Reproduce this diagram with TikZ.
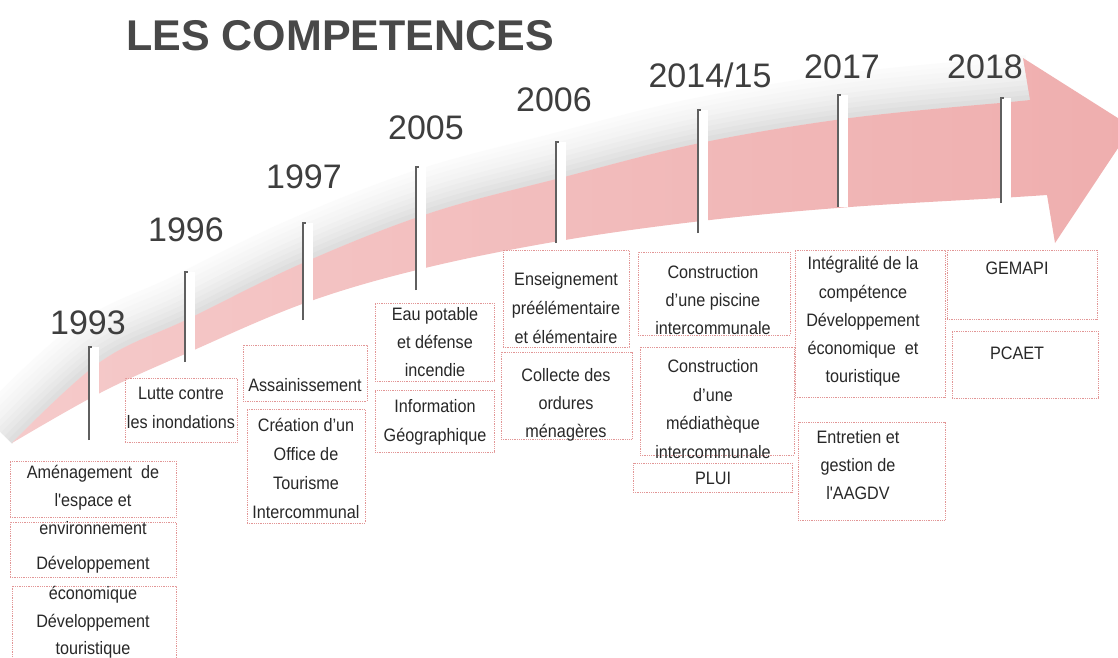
\documentclass[tikz,border=0pt]{standalone}
\usepackage{fontspec}
\setmainfont{Liberation Sans}
\newfontfamily\boxfont[FakeStretch=0.9]{Liberation Sans}
\definecolor{txtc}{RGB}{40,40,40}
\definecolor{yrc}{RGB}{62,62,62}
\definecolor{titc}{RGB}{72,72,72}
\definecolor{boxred}{RGB}{226,150,150}
\definecolor{pinkL}{RGB}{245,202,202}
\definecolor{pinkR}{RGB}{239,174,174}
\definecolor{polegray}{RGB}{95,95,95}
\begin{document}
\begin{tikzpicture}[x=1pt,y=-1pt,
  cbox/.style={draw=boxred, densely dotted, line width=0.8pt, inner sep=0pt},
  ctext/.style={text=txtc, align=center, inner sep=0pt, font=\boxfont\fontsize{18}{#1}\selectfont},
  ctext/.default=28,
  year/.style={text=yrc, inner sep=0pt, font=\fontsize{34}{40}\selectfont},
  ttl/.style={text=titc, inner sep=0pt, font=\bfseries\fontsize{43}{50}\selectfont}]
\useasboundingbox (0,0) rectangle (1118,657);
\fill[white] (0,0) rectangle (1118,657);

% shadow above the band
\begin{scope}
\clip plot[smooth, tension=0.6] coordinates {(12,443) (100,362) (190,318) (305,262) (430,213) (560,178) (700,143) (850,118) (1000,103) (1030,100)} -- (1030,0) -- (0,0) -- (0,443) -- cycle;
\foreach \w/\c in {90/1.5,80/2.5,70/3.5,60/4.5,50/6,40/7.5,30/9,20/11,10/13}
  \draw[line width=\w, black!\c, line join=round] plot[smooth, tension=0.6] coordinates {(12,443) (100,362) (190,318) (305,262) (430,213) (560,178) (700,143) (850,118) (1000,103) (1030,100)};
\end{scope}

% band and arrow head
\shade[left color=pinkL, right color=pinkR]
  plot[smooth, tension=0.6] coordinates {(12,443) (100,393) (185,354) (305,303) (425,268) (565,240) (710,220) (850,207) (1000,198) (1047,195)}
  -- (1055,243) -- (1132,127) -- (1023,58) -- (1030,100)
  -- plot[smooth, tension=0.6] coordinates {(1000,103) (850,118) (700,143) (560,178) (430,213) (305,262) (190,318) (100,362) (12,443)} -- cycle;

% poles
\foreach \x/\t/\b in {88/347/440, 184/272/362, 302/223/320, 415/167/290, 555/142/243, 697/110/233, 837/95/207, 1000/98/203}{
  \fill[white] (\x,\t) rectangle ({\x+11},\b);
  \draw[polegray, line width=1.6pt] ({\x+0.8},\b) -- ({\x+0.8},\t) -- ({\x+4},\t);
}

% title
\node[ttl] (title) at (340,36) {LES COMPETENCES};

% years
\node[year] (y1993) at (88,323) {1993};
\node[year] (y1996) at (186,230) {1996};
\node[year] (y1997) at (304,177) {1997};
\node[year] (y2005) at (426,128) {2005};
\node[year] (y2006) at (554,100) {2006};
\node[year] (y2014) at (710,75) {2014/15};
\node[year] (y2017) at (842,67) {2017};
\node[year] (y2018) at (985,67) {2018};

% boxes
\node[cbox, minimum width=166, minimum height=56] (bA) at (93,489) {};
\node[cbox, minimum width=166, minimum height=55] (bB) at (93,549.5) {};
\node[cbox, minimum width=164, minimum height=79] (bC) at (94,625.5) {};
\node[cbox, minimum width=112, minimum height=64] (bLutte) at (181,410) {};
\node[cbox, minimum width=124, minimum height=56] (bAss) at (305,373) {};
\node[cbox, minimum width=118, minimum height=114] (bOff) at (306,466) {};
\node[cbox, minimum width=119, minimum height=78] (bEau) at (434.5,342) {};
\node[cbox, minimum width=119, minimum height=62] (bInfo) at (434.5,421) {};
\node[cbox, minimum width=126, minimum height=97] (bEns) at (566,298.5) {};
\node[cbox, minimum width=131, minimum height=87] (bCol) at (566.5,395.5) {};
\node[cbox, minimum width=152, minimum height=83] (bPis) at (714,293.5) {};
\node[cbox, minimum width=154, minimum height=108] (bMed) at (717,401) {};
\node[cbox, minimum width=159, minimum height=29] (bPLUI) at (712.5,477.5) {};
\node[cbox, minimum width=150, minimum height=147] (bInt) at (870,323.5) {};
\node[cbox, minimum width=147, minimum height=98] (bEnt) at (871.5,471) {};
\node[cbox, minimum width=150, minimum height=69] (bGem) at (1022,284.5) {};
\node[cbox, minimum width=146, minimum height=67] (bPca) at (1025,364.5) {};

% texts
\node[ctext=28] (tA) at (93,500) {Aménagement\ \ de\\l'espace et\\environnement};
\node[ctext] (tB) at (93,565) {Développement};
\node[ctext=27.5] (tC) at (93,622.5) {économique\\Développement\\touristique};
\node[ctext=29] (tLutte) at (181,407.5) {Lutte contre\\les inondations};
\node[ctext] (tAss) at (305,385) {Assainissement};
\node[ctext=29] (tOff) at (306,468) {Création d’un\\Office de\\Tourisme\\Intercommunal};
\node[ctext=28] (tEau) at (435,342) {Eau potable\\et défense\\incendie};
\node[ctext=29] (tInfo) at (435,422.5) {Information\\Géographique};
\node[ctext=29] (tEns) at (566,308) {Enseignement\\préélémentaire\\et élémentaire};
\node[ctext=28] (tCol) at (566,405) {Collecte des\\ordures\\ménagères};
\node[ctext=28] (tPis) at (713,300) {Construction\\d’une piscine\\intercommunale};
\node[ctext=28.7] (tMed) at (713,409) {Construction\\d’une\\médiathèque\\intercommunale};
\node[ctext] (tPLUI) at (713,478) {PLUI};
\node[ctext=28.25] (tInt) at (863,321.5) {Intégralité de la\\compétence\\Développement\\économique\ \ et\\touristique};
\node[ctext=28] (tEnt) at (858,465) {Entretien et\\gestion de\\l'AAGDV};
\node[ctext] (tGem) at (1017,268) {GEMAPI};
\node[ctext] (tPca) at (1017,353) {PCAET};
\end{tikzpicture}
\end{document}
